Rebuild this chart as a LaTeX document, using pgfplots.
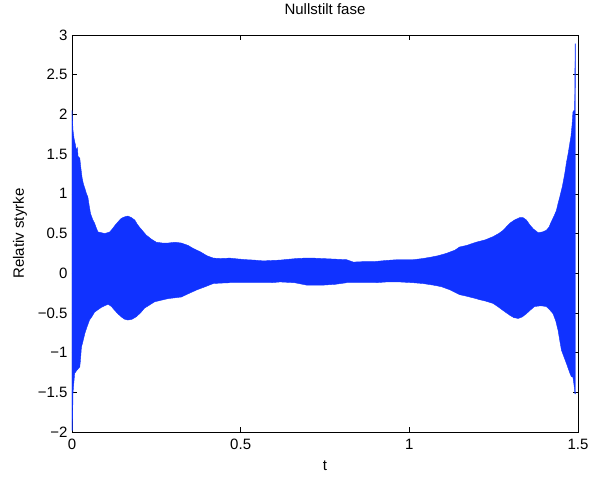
\documentclass[border=0pt]{standalone}
\usepackage{pgfplots}
\pgfplotsset{compat=1.18}
\usepackage{fontspec}
\setmainfont{Liberation Sans}
\definecolor{mblue}{RGB}{16,50,255}
\begin{document}
\begin{tikzpicture}
\begin{axis}[
  at={(0,0)}, anchor=south west,
  scale only axis, width=506pt, height=397pt,
  xmin=0, xmax=1.5, ymin=-2, ymax=3,
  xtick={0,0.5,1,1.5}, xticklabels={0,0.5,1,1.5},
  ytick={-2,-1.5,-1,-0.5,0,0.5,1,1.5,2,2.5,3},
  yticklabels={−2,−1.5,−1,−0.5,0,0.5,1,1.5,2,2.5,3},
  tick align=inside, major tick length=5pt,
  tick style={black, line width=0.5pt},
  axis line style={black, line width=0.6pt},
  font=\fontsize{15}{18}\selectfont,
  ticklabel style={font=\fontsize{15}{18}\selectfont},
  xticklabel style={anchor=base, yshift=-17.4pt},
  yticklabel style={anchor=east, xshift=-1pt},
  title={Nullstilt fase},
  title style={at={(axis description cs:0.5,1.036)}, anchor=base, font=\fontsize{15}{18}\selectfont},
  xlabel={t},
  xlabel style={at={(axis description cs:0.5,-0.0982)}, anchor=base, font=\fontsize{15}{18}\selectfont},
  ylabel={Relativ styrke},
  ylabel style={at={(axis description cs:-0.0949,0.5)}, anchor=base, rotate=0, font=\fontsize{15}{18}\selectfont},
]
\addplot[draw=mblue, line width=0.4pt, fill=mblue] coordinates {
(0,-1.98) (0,2.05) (0.003,1.80) (0.006,1.70) (0.010,1.62) (0.013,1.55) (0.016,1.58) (0.018,1.47) (0.023,1.45) (0.027,1.30) (0.030,1.20) (0.034,1.12) (0.038,1.07) (0.043,1.00) (0.047,0.96) (0.051,0.85) (0.055,0.75) (0.061,0.68) (0.067,0.63) (0.072,0.57) (0.077,0.52) (0.087,0.51) (0.097,0.50) (0.105,0.51) (0.112,0.52) (0.120,0.56) (0.127,0.60) (0.137,0.65) (0.146,0.69) (0.156,0.71) (0.166,0.72) (0.176,0.70) (0.186,0.67) (0.193,0.62) (0.200,0.58) (0.210,0.53) (0.220,0.48) (0.235,0.43) (0.250,0.39) (0.268,0.38) (0.285,0.38) (0.305,0.39) (0.324,0.38) (0.344,0.35) (0.36,0.31) (0.38,0.27) (0.40,0.22) (0.419,0.19) (0.44,0.185) (0.468,0.19) (0.49,0.18) (0.518,0.17) (0.54,0.165) (0.567,0.155) (0.59,0.16) (0.617,0.165) (0.64,0.175) (0.666,0.185) (0.69,0.19) (0.715,0.19) (0.74,0.185) (0.765,0.18) (0.79,0.175) (0.814,0.17) (0.834,0.14) (0.86,0.145) (0.893,0.145) (0.93,0.16) (0.963,0.17) (0.99,0.17) (1.012,0.17) (1.04,0.185) (1.061,0.20) (1.085,0.22) (1.11,0.25) (1.135,0.29) (1.149,0.33) (1.17,0.35) (1.198,0.39) (1.225,0.42) (1.248,0.46) (1.265,0.50) (1.278,0.54) (1.298,0.63) (1.312,0.67) (1.327,0.70) (1.337,0.70) (1.347,0.67) (1.357,0.61) (1.367,0.56) (1.382,0.51) (1.395,0.52) (1.406,0.54) (1.414,0.58) (1.421,0.65) (1.429,0.72) (1.436,0.79) (1.441,0.88) (1.446,0.96) (1.454,1.10) (1.461,1.26) (1.466,1.40) (1.471,1.51) (1.475,1.62) (1.479,1.72) (1.482,1.85) (1.485,2.03) (1.488,2.05) (1.490,2.05) (1.4915,2.89) (1.4925,2.89) (1.4925,-1.52)
(1.491,-1.52) (1.488,-1.40) (1.485,-1.31) (1.480,-1.30) (1.476,-1.26) (1.471,-1.20) (1.466,-1.14) (1.458,-1.05) (1.451,-0.97) (1.446,-0.85) (1.441,-0.72) (1.434,-0.60) (1.426,-0.51) (1.416,-0.46) (1.406,-0.42) (1.390,-0.41) (1.371,-0.42) (1.360,-0.46) (1.347,-0.51) (1.335,-0.55) (1.323,-0.57) (1.310,-0.56) (1.298,-0.53) (1.278,-0.47) (1.262,-0.42) (1.248,-0.38) (1.225,-0.35) (1.205,-0.33) (1.198,-0.32) (1.17,-0.29) (1.149,-0.27) (1.121,-0.21) (1.095,-0.17) (1.071,-0.15) (1.04,-0.13) (1.012,-0.12) (0.97,-0.11) (0.933,-0.11) (0.90,-0.12) (0.874,-0.12) (0.84,-0.12) (0.814,-0.12) (0.78,-0.14) (0.745,-0.15) (0.72,-0.15) (0.696,-0.15) (0.66,-0.12) (0.617,-0.11) (0.59,-0.12) (0.567,-0.12) (0.518,-0.12) (0.468,-0.12) (0.44,-0.125) (0.419,-0.13) (0.395,-0.17) (0.37,-0.21) (0.344,-0.26) (0.324,-0.30) (0.285,-0.32) (0.265,-0.34) (0.245,-0.36) (0.23,-0.40) (0.215,-0.44) (0.203,-0.50) (0.19,-0.55) (0.178,-0.58) (0.166,-0.59) (0.156,-0.58) (0.146,-0.55) (0.136,-0.51) (0.127,-0.47) (0.117,-0.42) (0.107,-0.39) (0.097,-0.41) (0.087,-0.43) (0.077,-0.46) (0.067,-0.49) (0.06,-0.54) (0.052,-0.59) (0.045,-0.67) (0.038,-0.76) (0.033,-0.85) (0.028,-0.93) (0.025,-1.10) (0.023,-1.18) (0.015,-1.22) (0.008,-1.26) (0.005,-1.40) (0.003,-1.51) (0.001,-1.98) (0,-1.98)
} -- cycle;
\end{axis}
\pgfresetboundingbox
\path[use as bounding box] (-72pt,-45pt) rectangle (520pt,432pt);
\end{tikzpicture}
\end{document}
